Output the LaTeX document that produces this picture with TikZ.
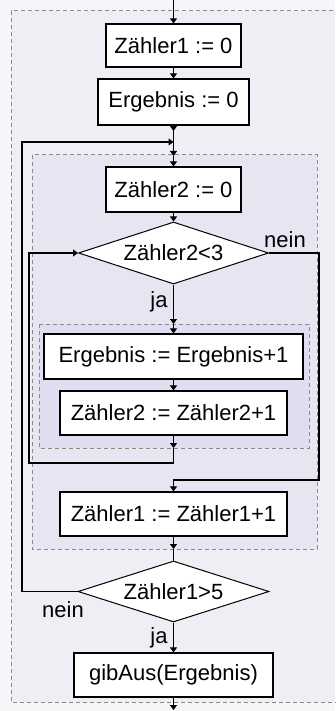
\documentclass[tikz,border=0pt]{standalone}
\usepackage{fontspec}
\setmainfont{Liberation Sans}
\usetikzlibrary{arrows.meta,shapes.geometric}

\definecolor{pagebg}{HTML}{F6F6F8}
\definecolor{outerbg}{HTML}{EEEEF4}
\definecolor{midbg}{HTML}{E6E6F2}
\definecolor{innerbg}{HTML}{DEDEF0}
\definecolor{frame}{HTML}{8A8A8A}

\tikzset{
  every node/.style={font=\fontsize{22}{26}\selectfont},
  stmt/.style={draw=black, line width=1.2pt, fill=white, inner sep=0pt},
  cond/.style={diamond, draw=black, line width=1pt, fill=white, inner sep=0pt, aspect=3},
  flow/.style={draw=black, line width=1.1pt},
  arr/.style={flow, -{Triangle[width=7pt,length=5pt]}},
  blockframe/.style={draw=frame, line width=1pt, dash pattern=on 4pt off 3pt},
  lbl/.style={inner sep=0pt}
}

\begin{document}
\begin{tikzpicture}[x=1pt,y=-1pt]
\useasboundingbox (0,0) rectangle (335,711);

% background and block frames
\fill[pagebg] (0,0) rectangle (335,711);
\fill[outerbg] (11,11) rectangle (335,702);
\draw[blockframe] (340,11) -- (11,11) -- (11,702) -- (340,702);
\filldraw[blockframe, fill=midbg] (32,155) rectangle (317,549);
\filldraw[blockframe, fill=innerbg] (39,324) rectangle (309,448);

% statements and decisions
\node[stmt, minimum width=135pt, minimum height=43pt] (z1) at (173.5,45.5) {Zähler1 := 0};
\node[stmt, minimum width=151pt, minimum height=46pt] (erg0) at (173.5,102) {Ergebnis := 0};
\node[stmt, minimum width=135pt, minimum height=45pt] (z2) at (173.5,189.5) {Zähler2 := 0};
\node[cond, minimum width=190pt, minimum height=62pt] (d1) at (173.5,253) {Zähler2<3};
\node[stmt, minimum width=259pt, minimum height=45pt] (einc) at (173.5,356.5) {Ergebnis := Ergebnis+1};
\node[stmt, minimum width=227pt, minimum height=44pt] (z2inc) at (173.5,413) {Zähler2 := Zähler2+1};
\node[stmt, minimum width=227pt, minimum height=44pt] (z1inc) at (173.5,514) {Zähler1 := Zähler1+1};
\node[cond, minimum width=191pt, minimum height=61pt] (d2) at (173.5,591.5) {Zähler1>5};
\node[stmt, minimum width=199pt, minimum height=44pt] (gib) at (173.5,675) {gibAus(Ergebnis)};

% junction points on the main line
\coordinate (start) at (173.5,0);
\coordinate (c1) at (173.5,131);
\coordinate (c2) at (173.5,142);
\coordinate (c3) at (173.5,156);
\coordinate (c4) at (173.5,324);
\coordinate (c5) at (173.5,448);
\coordinate (c6) at (173.5,549);
\coordinate (finish) at (173.5,710);

% main flow
\draw[arr] (start) -- (z1.north);
\draw[arr] (z1.south) -- (erg0.north);
\draw[arr] (erg0.south) -- (c1);
\draw[flow] (c1) -- (c2);
\draw[arr] (c2) -- (c3);
\draw[arr] (c3) -- (z2.north);
\draw[arr] (z2.south) -- (d1.north);
\draw[arr] (d1.south) -- (c4);
\draw[arr] (c4) -- (einc.north);
\draw[arr] (einc.south) -- (z2inc.north);
\draw[arr] (z2inc.south) -- (c5);
\draw[arr] (z1inc.south) -- (c6);
\draw[flow] (c6) -- (d2.north);
\draw[arr] (d2.south) -- (gib.north);
\draw[arr] (gib.south) -- (finish);

% inner loop: back to the condition
\draw[arr] (c5) -- (173.5,463) -- (29,463) -- (29,253) -- (d1.west);
% inner loop exit
\draw[arr] (d1.east) -- (319,253) -- (319,480) -- (173.5,480) -- (z1inc.north);
% outer loop: back to the top
\draw[arr] (d2.west) -- (22,591.5) -- (22,142) -- (c2);

% branch labels
\node[lbl] at (285,240) {nein};
\node[lbl] at (159,302) {ja};
\node[lbl] at (63,610) {nein};
\node[lbl] at (159,638) {ja};
\end{tikzpicture}
\end{document}
